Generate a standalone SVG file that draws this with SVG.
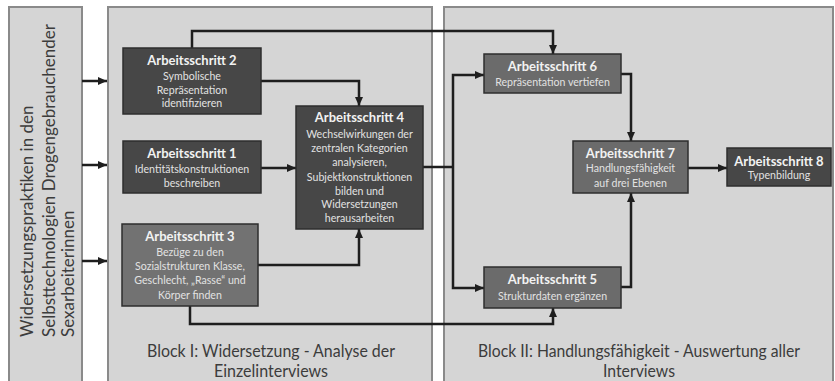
<svg xmlns="http://www.w3.org/2000/svg" width="835" height="381" viewBox="0 0 835 381">
<style>
.panel{fill:#d5d5d5;stroke:#8a8a8a;stroke-width:2}
.dark{fill:#474747;stroke:#2e2e2e;stroke-width:1.5}
.mid{fill:#6b6b6b;stroke:#2e2e2e;stroke-width:1.5}
.t{font-family:Lato,"Liberation Sans",sans-serif;font-weight:bold;font-size:13px;fill:#f2f2f2;text-anchor:middle}
.b{font-family:Lato,"Liberation Sans",sans-serif;font-size:10.6px;fill:#e2e2e2;text-anchor:middle}
.blk{font-family:Lato,"Liberation Sans",sans-serif;font-size:17.5px;fill:#3c3c3c;text-anchor:middle}
.side{font-family:Lato,"Liberation Sans",sans-serif;font-size:17px;fill:#3c3c3c}
.c{fill:none;stroke:#1e1e1e;stroke-width:2.5;marker-end:url(#ah)}
.cn{fill:none;stroke:#1e1e1e;stroke-width:2.5}
</style>
<defs>
<marker id="ah" markerUnits="userSpaceOnUse" markerWidth="10" markerHeight="10" viewBox="0 0 10 10" refX="9" refY="5" orient="auto">
<path d="M0,1 L9,5 L0,9 Z" fill="#1e1e1e"/>
</marker>
</defs>
<rect width="835" height="381" fill="#ffffff"/>
<g id="panels">
<rect class="panel" x="9" y="7" width="73" height="380"/>
<rect class="panel" x="108" y="7" width="324" height="380"/>
<rect class="panel" x="444" y="7" width="389" height="380"/>
</g>
<g id="side-label">
<text class="side" transform="translate(33,337) rotate(-90)">Widersetzungspraktiken in den</text>
<text class="side" transform="translate(55,337) rotate(-90)">Selbsttechnologien Drogengebrauchender</text>
<text class="side" transform="translate(74,337) rotate(-90)">Sexarbeiterinnen</text>
</g>
<g id="block-labels">
<text class="blk" x="271" y="357" textLength="248" lengthAdjust="spacingAndGlyphs">Block I: Widersetzung - Analyse der</text>
<text class="blk" x="271" y="377" textLength="114" lengthAdjust="spacingAndGlyphs">Einzelinterviews</text>
<text class="blk" x="639" y="357" textLength="322" lengthAdjust="spacingAndGlyphs">Block II: Handlungsfähigkeit - Auswertung aller</text>
<text class="blk" x="639" y="377" textLength="72" lengthAdjust="spacingAndGlyphs">Interviews</text>
</g>
<g id="connectors">
<path class="c" d="M82,81 H107"/>
<path class="c" d="M82,165 H107"/>
<path class="c" d="M82,261 H107"/>
<path class="c" d="M192,48 V31 H553 V54"/>
<path class="c" d="M261,81 H359 V106"/>
<path class="c" d="M261,168 H296"/>
<path class="c" d="M258,265 H359 V229"/>
<path class="c" d="M190,306 V324 H553 V308"/>
<path class="cn" d="M423,167 H453"/>
<path class="c" d="M453,167 V75 H484"/>
<path class="c" d="M453,167 V288 H484"/>
<path class="c" d="M621,74 H631 V141"/>
<path class="c" d="M621,287 H631 V193"/>
<path class="c" d="M688,168 H727"/>
</g>
<g id="as2">
<rect class="dark" x="123" y="48" width="138" height="66"/>
<text class="t" x="192" y="65">Arbeitsschritt  2</text>
<text class="b" x="192" y="80">Symbolische</text>
<text class="b" x="192" y="94">Repräsentation</text>
<text class="b" x="192" y="107">identifizieren</text>
</g>
<g id="as1">
<rect class="dark" x="123" y="141" width="138" height="52"/>
<text class="t" x="192" y="158">Arbeitsschritt  1</text>
<text class="b" x="192" y="173">Identitätskonstruktionen</text>
<text class="b" x="192" y="187">beschreiben</text>
</g>
<g id="as3">
<rect class="mid" x="122" y="224" width="136" height="82" style="fill:#727272"/>
<text class="t" x="190" y="241">Arbeitsschritt 3</text>
<text class="b" x="190" y="256">Bezüge zu  den</text>
<text class="b" x="190" y="270">Sozialstrukturen  Klasse,</text>
<text class="b" x="190" y="284">Geschlecht, „Rasse“ und</text>
<text class="b" x="190" y="299">Körper finden</text>
</g>
<g id="as4">
<rect class="dark" x="296" y="106" width="127" height="123"/>
<text class="t" x="359.5" y="122">Arbeitsschritt  4</text>
<text class="b" x="359.5" y="138">Wechselwirkungen der</text>
<text class="b" x="359.5" y="152">zentralen Kategorien</text>
<text class="b" x="359.5" y="166">analysieren,</text>
<text class="b" x="359.5" y="181">Subjektkonstruktionen</text>
<text class="b" x="359.5" y="195">bilden und</text>
<text class="b" x="359.5" y="208">Widersetzungen</text>
<text class="b" x="359.5" y="222">herausarbeiten</text>
</g>
<g id="as6">
<rect class="mid" x="484" y="54" width="137" height="39"/>
<text class="t" x="552.5" y="71">Arbeitsschritt 6</text>
<text class="b" x="552.5" y="86">Repräsentation vertiefen</text>
</g>
<g id="as7">
<rect class="mid" x="573" y="141" width="115" height="52"/>
<text class="t" x="630.5" y="158">Arbeitsschritt  7</text>
<text class="b" x="630.5" y="172">Handlungsfähigkeit</text>
<text class="b" x="630.5" y="187">auf drei Ebenen</text>
</g>
<g id="as8">
<rect class="dark" x="727" y="148" width="104" height="38"/>
<text class="t" x="779" y="166">Arbeitsschritt  8</text>
<text class="b" x="779" y="179">Typenbildung</text>
</g>
<g id="as5">
<rect class="mid" x="484" y="267" width="137" height="41"/>
<text class="t" x="552.5" y="284">Arbeitsschritt 5</text>
<text class="b" x="552.5" y="300">Strukturdaten ergänzen</text>
</g>
</svg>
